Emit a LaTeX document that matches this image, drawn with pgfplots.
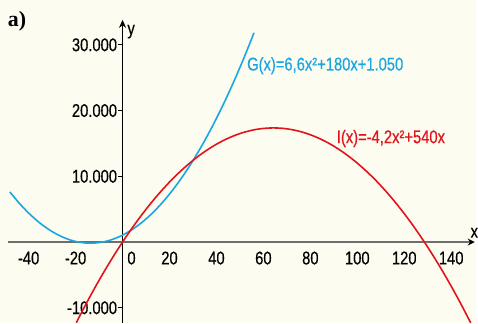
\documentclass[border=0pt]{standalone}
\usepackage{fontspec}
\setmainfont[FakeStretch=0.8,FakeBold=0.4]{Liberation Sans}
\newfontfamily\labelfont{Liberation Serif}
\usepackage{pgfplots}
\pgfplotsset{compat=1.18}
\usetikzlibrary{backgrounds,arrows.meta}

\definecolor{bgcream}{HTML}{FCFCF0}
\definecolor{gblue}{HTML}{1AA6E2}
\definecolor{ired}{HTML}{E3131B}
\definecolor{axgray}{HTML}{6E6E6E}

\begin{document}
\begin{tikzpicture}
\begin{axis}[
    scale only axis,
    width=468.6pt,
    height=304.1pt,
    xmin=-48.8, xmax=150,
    ymin=-12270, ymax=33800,
    axis lines=middle,
    clip=false,
    font=\fontsize{18.5}{21}\selectfont,
    x axis line style={axgray, line width=1.8pt, -{Stealth[black,length=7pt,width=7pt]}},
    y axis line style={black, line width=1.3pt, -{Stealth[length=8pt,width=7pt]}},
    xtick={-40,-20,20,40,60,80,100,120,140},
    extra x ticks={0},
    extra x tick style={tick label style={xshift=9pt}},
    hide obscured x ticks=false,
    ytick={-10000,10000,20000,30000},
    scaled y ticks=false,
    tick align=outside,
    major tick length=5pt,
    xtick style={draw=none},
    ytick style={black, line width=1pt},
    /pgf/number format/assume math mode=true,
    /pgf/number format/1000 sep={.},
    xticklabel style={yshift=-1pt},
    yticklabel style={xshift=3pt},
]
\addplot[gblue, line width=1.6pt, smooth] coordinates {
    (-48,7616.4) (-44,5907.6) (-40,4410) (-36,3123.6) (-32,2048.4)
    (-28,1184.4) (-24,531.6) (-20,90) (-16,-140.4) (-13.64,-177.3)
    (-12,-159.6) (-8,32.4) (-4,435.6) (0,1050) (4,1875.6) (8,2912.4)
    (12,4160.4) (16,5619.6) (20,7290) (24,9171.6) (28,11264.4)
    (32,13568.4) (36,16083.6) (40,18810) (44,21747.6) (48,24896.4)
    (52,28256.4) (56,31827.6)
};
\addplot[ired, line width=1.6pt, smooth] coordinates {
    (-19.7,-12268) (-16,-9715.2) (-12,-7084.8) (-8,-4588.8) (-4,-2227.2)
    (0,0) (4,2092.8) (8,4051.2) (12,5875.2) (16,7564.8) (20,9120)
    (24,10540.8) (28,11827.2) (32,12979.2) (36,13996.8) (40,14880)
    (44,15628.8) (48,16243.2) (52,16723.2) (56,17068.8) (60,17280)
    (64,17356.8) (68,17299.2) (72,17107.2) (76,16780.8) (80,16320)
    (84,15724.8) (88,14995.2) (92,14131.2) (96,13132.8) (100,12000)
    (104,10732.8) (108,9331.2) (112,7795.2) (116,6124.8) (120,4320)
    (124,2380.8) (128,307.2) (132,-1900.8) (136,-4243.2) (140,-6720)
    (144,-9331.2) (148.3,-12288)
};
\node[gblue, anchor=west, inner sep=0pt] at (axis cs:53,26818) {G(x)=6,6x²+180x+1.050};
\node[ired, anchor=west, inner sep=0pt] at (axis cs:91.2,15758) {I(x)=-4,2x²+540x};
\node[anchor=west, inner sep=0pt] at (axis cs:2,32000) {y};
\node[anchor=east, inner sep=0pt] at (axis cs:151.5,1400) {x};
\node[anchor=north west, inner sep=0pt, font=\fontsize{22}{24}\selectfont\labelfont\bfseries] at (axis cs:-48.9,35100) {a)};
\coordinate (bgbl) at (axis cs:-52.2,-12273);
\coordinate (bgtr) at (axis cs:150.6,36818);
\end{axis}
\begin{scope}[on background layer]
\fill[bgcream] (bgbl) rectangle (bgtr);
\end{scope}
\end{tikzpicture}
\end{document}
